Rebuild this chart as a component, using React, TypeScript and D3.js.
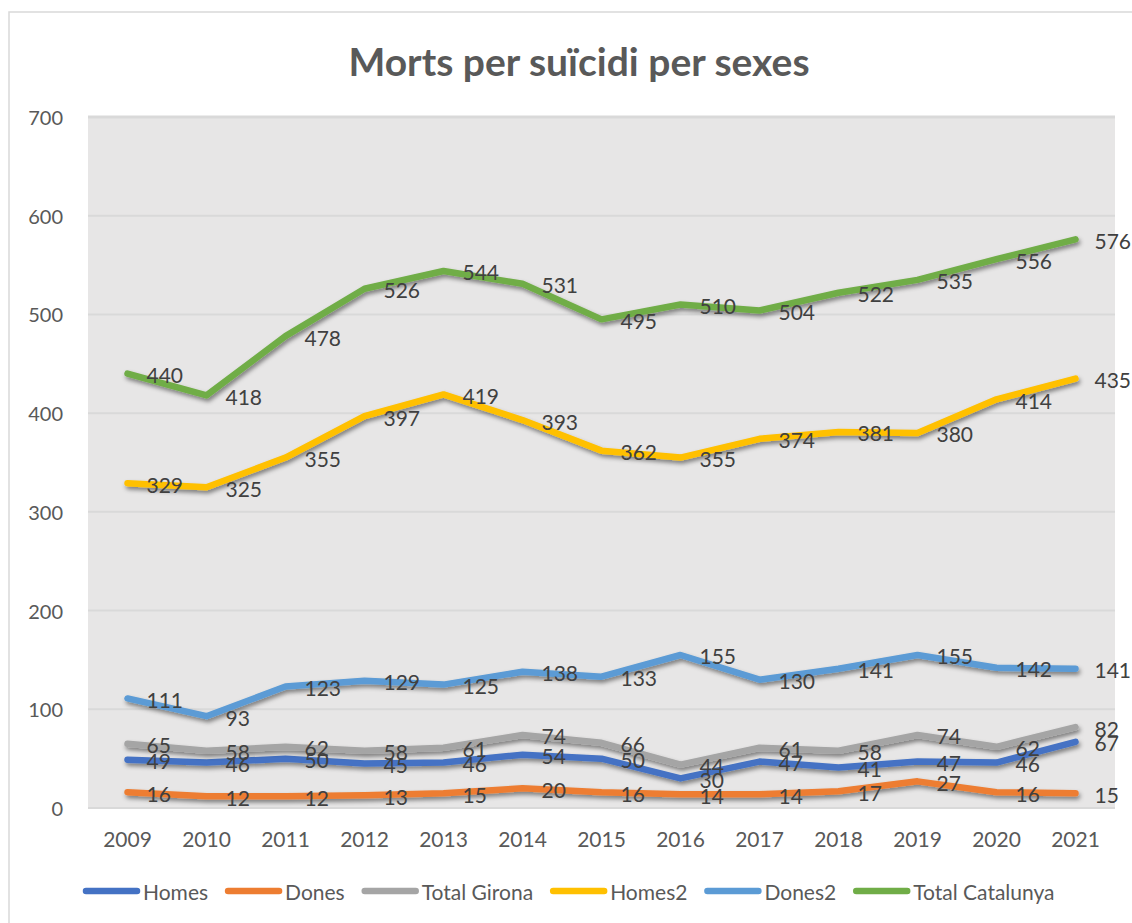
import React, { useEffect, useRef } from "react";
import * as d3 from "d3";

const years = ["2009","2010","2011","2012","2013","2014","2015","2016","2017","2018","2019","2020","2021"];
const homes = [49,46,50,45,46,54,50,30,47,41,47,46,67];
const dones = [16,12,12,13,15,20,16,14,14,17,27,16,15];
const totalGirona = [65,58,62,58,61,74,66,44,61,58,74,62,82];
const homes2 = [329,325,355,397,419,393,362,355,374,381,380,414,435];
const dones2 = [111,93,123,129,125,138,133,155,130,141,155,142,141];
const totalCatalunya = [440,418,478,526,544,531,495,510,504,522,535,556,576];
const yTicks = [0,100,200,300,400,500,600,700];

const seriesNames = ["Homes","Dones","Total Girona","Homes2","Dones2","Total Catalunya"];
const seriesValues = [homes, dones, totalGirona, homes2, dones2, totalCatalunya];
const seriesColors = ["#4472C4","#ED7D31","#A5A5A5","#FFC000","#5B9BD5","#70AD47"];

const W = 1132, H = 923;
const FONT = "Lato, 'Noto Sans', sans-serif";

export default function App() {
  const ref = useRef<SVGSVGElement>(null);
  useEffect(() => {
    const svg = d3.select(ref.current);
    svg.selectAll("*").remove();

    const defs = svg.append("defs");
    const f = defs.append("filter").attr("id","sh").attr("x","-10%").attr("y","-50%").attr("width","130%").attr("height","250%");
    f.append("feDropShadow").attr("dx",1.5).attr("dy",3).attr("stdDeviation",2).attr("flood-color","#000").attr("flood-opacity",0.45);

    svg.append("rect").attr("x",0).attr("y",0).attr("width",W).attr("height",H).attr("fill","#fff");
    svg.append("rect").attr("x",9).attr("y",12).attr("width",W+20).attr("height",H+20)
      .attr("fill","#fff").attr("stroke","#d9d9d9").attr("stroke-width",1.5);

    const left = 88, right = 1115, top = 117, bottom = 808;
    const x = d3.scaleBand().domain(years).range([left,right]);
    const y = d3.scaleLinear().domain([0,700]).range([bottom,top]);
    const cx = (i: number) => (x(years[i]) as number) + x.bandwidth()/2;

    svg.append("rect").attr("x",left).attr("y",top).attr("width",right-left).attr("height",bottom-top).attr("fill","#e7e6e6");

    svg.append("g").selectAll("line").data(yTicks).join("line")
      .attr("x1",left).attr("x2",right)
      .attr("y1",d=>y(d)).attr("y2",d=>y(d))
      .attr("stroke","#d9d9d9").attr("stroke-width",d=> d===700 ? 3 : 2);

    svg.append("g").selectAll("text").data(yTicks).join("text")
      .attr("x",63).attr("y",d=>y(d)).attr("text-anchor","end").attr("dominant-baseline","central")
      .attr("font-family",FONT).attr("font-size",20).attr("fill","#595959").text(d=>d);

    svg.append("g").selectAll("text").data(years).join("text")
      .attr("x",(d,i)=>cx(i)).attr("y",838).attr("text-anchor","middle").attr("dominant-baseline","central")
      .attr("font-family",FONT).attr("font-size",21).attr("fill","#595959").text(d=>d);

    const line = d3.line<number>().x((d,i)=>cx(i)).y(d=>y(d));
    seriesValues.forEach((vals, k) => {
      svg.append("path").datum(vals).attr("d",line as any).attr("fill","none")
        .attr("stroke",seriesColors[k]).attr("stroke-width",6.5)
        .attr("stroke-linejoin","round").attr("stroke-linecap","round").attr("filter","url(#sh)");
    });
    seriesValues.forEach((vals) => {
      svg.append("g").selectAll("text").data(vals).join("text")
        .attr("x",(d,i)=>cx(i)+19).attr("y",d=>y(d)+1).attr("dominant-baseline","central")
        .attr("font-family",FONT).attr("font-size",21).attr("fill","#404040").text(d=>d);
    });

    svg.append("text").attr("x",579).attr("y",61).attr("text-anchor","middle").attr("dominant-baseline","central")
      .attr("font-family",FONT).attr("font-weight","bold").attr("font-size",39).attr("fill","#595959")
      .text("Morts per suïcidi per sexes");

    const lg = svg.append("g");
    let lx = 83;
    seriesNames.forEach((name, k) => {
      lg.append("line").attr("x1",lx+3).attr("x2",lx+54).attr("y1",891).attr("y2",891)
        .attr("stroke",seriesColors[k]).attr("stroke-width",6.5).attr("stroke-linecap","round");
      const t = lg.append("text").attr("x",lx+60).attr("y",891).attr("dominant-baseline","central")
        .attr("font-family",FONT).attr("font-size",21).attr("fill","#595959").text(name);
      const w = (t.node() as SVGTextElement).getComputedTextLength();
      lx = lx + 60 + w + 17;
    });
  }, []);
  return <svg ref={ref} width={W} height={H} style={{position:"absolute",left:0,top:0,display:"block"}} />;
}
